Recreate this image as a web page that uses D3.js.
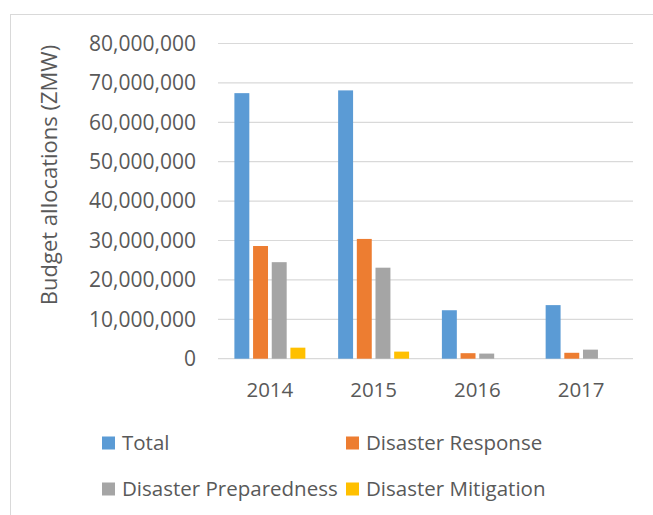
<!DOCTYPE html>
<html>
<head>
<meta charset="utf-8">
<script src="https://cdn.jsdelivr.net/npm/d3@7"></script>
<style>
  body { margin: 0; background: #fff; }
  text { font-family: "Open Sans", sans-serif; fill: #595959; }
</style>
</head>
<body>
<svg id="chart" width="653" height="515"></svg>
<script>
// data
var years = ["2014", "2015", "2016", "2017"];
var seriesNames = ["Total", "Disaster Response", "Disaster Preparedness", "Disaster Mitigation"];
var total = [67400000, 68100000, 12300000, 13600000];
var response = [28600000, 30400000, 1400000, 1500000];
var preparedness = [24500000, 23100000, 1300000, 2300000];
var mitigation = [2800000, 1800000, 0, 0];
var yTicks = [0, 10000000, 20000000, 30000000, 40000000, 50000000, 60000000, 70000000, 80000000];
var colors = ["#5B9BD5", "#ED7D31", "#A5A5A5", "#FFC000"];

var allSeries = [total, response, preparedness, mitigation];

let svg = d3.select("svg#chart"),
margin = { top: 43.5, right: 20, bottom: 156.3, left: 218 },
width = 633 - margin.left,
height = 358.7 - margin.top;

// chart frame
svg.append("rect")
    .attr("x", 10.5).attr("y", 14.5)
    .attr("width", 660).attr("height", 520)
    .attr("fill", "none")
    .attr("stroke", "#D9D9D9");

let g = svg.append("g").attr("transform", `translate(${margin.left},${margin.top})`);

var x0 = d3.scaleBand().domain(years).range([0, width]).paddingInner(0.316).paddingOuter(0.158);
var x1 = d3.scaleBand().domain(d3.range(4)).range([0, x0.bandwidth()]).paddingInner(0.2).paddingOuter(0);
var y = d3.scaleLinear().domain([0, 80000000]).range([height, 0]);

// gridlines
g.append("g")
    .selectAll("line")
    .data(yTicks)
    .enter().append("line")
    .attr("x1", 0).attr("x2", width)
    .attr("y1", d => y(d)).attr("y2", d => y(d))
    .attr("stroke", "#D9D9D9")
    .attr("stroke-width", 1.2);

// y tick labels
var yAxis = d3.axisLeft(y).tickValues(yTicks).tickFormat(d3.format(",")).tickSize(0).tickPadding(22);
g.append("g").call(yAxis)
    .call(a => a.select(".domain").remove())
    .selectAll("text")
    .style("font-size", "21px")
    .attr("fill", "#595959");

// bars
var grp = g.selectAll(".year")
    .data(years)
    .enter().append("g")
    .attr("class", "year")
    .attr("transform", d => `translate(${x0(d)},0)`);

grp.selectAll("rect")
    .data((d, i) => allSeries.map((s, k) => ({ k: k, v: s[i] })))
    .enter().append("rect")
    .attr("x", d => x1(d.k))
    .attr("width", x1.bandwidth())
    .attr("y", d => y(d.v))
    .attr("height", d => height - y(d.v))
    .attr("fill", d => colors[d.k]);

// x labels
g.append("g").selectAll("text")
    .data(years)
    .enter().append("text")
    .attr("x", d => x0(d) + x0.bandwidth() / 2)
    .attr("y", height + 38.5)
    .attr("text-anchor", "middle")
    .style("font-size", "20.5px")
    .text(d => d);

// y axis title
svg.append("text")
    .attr("transform", "translate(57,175) rotate(-90)")
    .attr("text-anchor", "middle")
    .style("font-size", "22px")
    .text("Budget allocations (ZMW)");

// legend
var legendPos = [[102, 443], [346, 443], [102, 489], [346, 489]];
var legend = svg.append("g").selectAll("g")
    .data(seriesNames)
    .enter().append("g")
    .attr("transform", (d, i) => `translate(${legendPos[i][0]},${legendPos[i][1]})`);
legend.append("rect")
    .attr("x", 0).attr("y", -6.5)
    .attr("width", 13).attr("height", 13)
    .attr("fill", (d, i) => colors[i]);
legend.append("text")
    .attr("x", 20).attr("y", 0)
    .attr("dy", "0.35em")
    .style("font-size", "20.5px")
    .text(d => d);
</script>
</body>
</html>
